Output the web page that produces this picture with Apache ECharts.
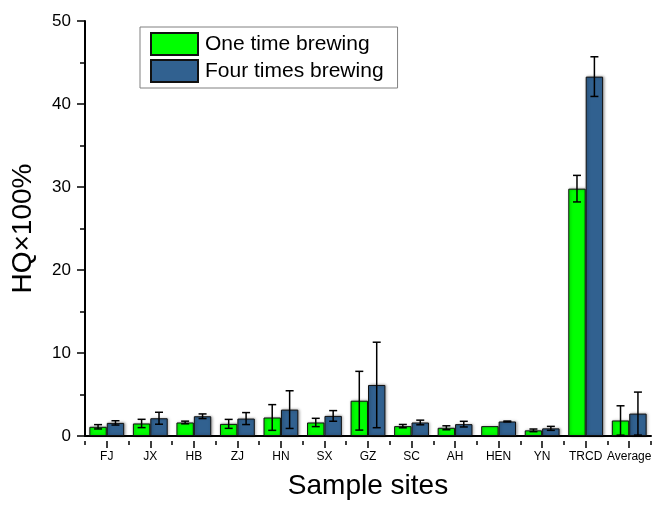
<!DOCTYPE html>
<html>
<head>
<meta charset="utf-8">
<script src="https://cdn.jsdelivr.net/npm/echarts@6/dist/echarts.min.js"></script>
<style>html,body{margin:0;padding:0;background:#fff;}#c{width:656px;height:505px;}</style>
</head>
<body>
<div id="c"></div>
<script>
const categories = ['FJ','JX','HB','ZJ','HN','SX','GZ','SC','AH','HEN','YN','TRCD','Average'];
const oneTime = [1.11, 1.51, 1.63, 1.46, 2.23, 1.63, 4.25, 1.19, 0.99, 1.19, 0.68, 29.8, 1.87];
const oneTimeErr = [0.26, 0.5, 0.16, 0.54, 1.55, 0.5, 3.54, 0.2, 0.24, 0, 0.16, 1.6, 1.77];
const fourTimes = [1.58, 2.14, 2.38, 2.1, 3.18, 2.42, 6.15, 1.63, 1.43, 1.75, 0.92, 43.3, 2.7];
const fourTimesErr = [0.26, 0.72, 0.28, 0.72, 2.27, 0.64, 5.15, 0.28, 0.34, 0.05, 0.24, 2.39, 2.59];
const yTicks = [0, 10, 20, 30, 40, 50];

const FONT = "'Liberation Sans', Arial, sans-serif";
const chart = echarts.init(document.getElementById('c'), null, {renderer: 'canvas'});

function errRender(side) {
  return function (params, api) {
    const idx = api.value(0), v = api.value(1), e = api.value(2);
    if (!e) return null;
    const c = api.coord([idx, v]);
    const band = api.size([1, 0])[0];
    const bw = band * 0.8 / 2;
    const x = c[0] + side * bw / 2;
    const hi = api.coord([idx, v + e])[1];
    const lo = api.coord([idx, v - e])[1];
    const cap = 4;
    const st = {stroke: '#000', lineWidth: 1.5};
    return {
      type: 'group',
      children: [
        {type: 'line', shape: {x1: x, y1: hi, x2: x, y2: lo}, style: st},
        {type: 'line', shape: {x1: x - cap, y1: hi, x2: x + cap, y2: hi}, style: st},
        {type: 'line', shape: {x1: x - cap, y1: lo, x2: x + cap, y2: lo}, style: st}
      ]
    };
  };
}

const gridRect = {left: 85, top: 21, width: 566, height: 420};

const option = {
  animation: false,
  textStyle: {fontFamily: FONT},
  grid: [Object.assign({}, gridRect), Object.assign({}, gridRect), Object.assign({}, gridRect)],
  legend: {
    data: ['One time brewing', 'Four times brewing'],
    orient: 'vertical',
    left: 140, top: 27,
    padding: [5, 14, 5, 10],
    itemGap: 3,
    itemWidth: 47, itemHeight: 22,
    icon: 'rect',
    borderColor: '#808080', borderWidth: 1,
    textStyle: {fontSize: 21, color: '#000', fontFamily: FONT, padding: [0, 0, 0, 2]}
  },
  xAxis: [{
    type: 'category', data: categories, gridIndex: 0,
    name: 'Sample sites', nameLocation: 'middle', nameGap: 36,
    nameTextStyle: {fontSize: 28, color: '#000', fontFamily: FONT},
    axisLine: {lineStyle: {color: '#000', width: 2}},
    axisTick: {show: false},
    axisLabel: {fontSize: 12, color: '#000', margin: 15, interval: 0, fontFamily: FONT}
  }, {
    type: 'category', data: categories, gridIndex: 1,
    axisLine: {show: false},
    axisTick: {show: true, interval: 0, alignWithLabel: true, length: 7, lineStyle: {color: '#000', width: 1.5}},
    axisLabel: {show: false, interval: 0}
  }, {
    type: 'category', data: categories, gridIndex: 2,
    axisLine: {show: false},
    axisTick: {show: true, interval: 0, length: 4, lineStyle: {color: '#000', width: 1.5}},
    axisLabel: {show: false, interval: 0}
  }],
  yAxis: [{
    type: 'value', min: yTicks[0], max: yTicks[yTicks.length - 1], interval: 10, gridIndex: 0,
    name: 'HQ×100%', nameLocation: 'middle', nameGap: 48, nameRotate: 90,
    nameTextStyle: {fontSize: 28, color: '#000', fontFamily: FONT},
    axisLine: {show: true, lineStyle: {color: '#000', width: 2}},
    axisTick: {show: true, length: 8, lineStyle: {color: '#000', width: 1.5}},
    minorTick: {show: true, splitNumber: 2, length: 5, lineStyle: {color: '#000', width: 1.5}},
    splitLine: {show: false},
    axisLabel: {fontSize: 17, color: '#000', margin: 14, fontFamily: FONT}
  }, {
    type: 'value', min: 0, max: 50, gridIndex: 1, show: false
  }, {
    type: 'value', min: 0, max: 50, gridIndex: 2, show: false
  }],
  series: [{
    name: 'One time brewing', type: 'bar', data: oneTime,
    barGap: '0%', barCategoryGap: '20%',
    itemStyle: {color: '#00ff00', borderColor: '#111', borderWidth: 1,
      shadowBlur: 3, shadowColor: 'rgba(0,0,0,0.35)', shadowOffsetX: 1}
  }, {
    name: 'Four times brewing', type: 'bar', data: fourTimes,
    barGap: '0%', barCategoryGap: '20%',
    itemStyle: {color: '#316190', borderColor: '#111', borderWidth: 1,
      shadowBlur: 3, shadowColor: 'rgba(0,0,0,0.35)', shadowOffsetX: 1}
  }, {
    type: 'custom', renderItem: errRender(-1), z: 5,
    data: oneTime.map((v, i) => [i, v, oneTimeErr[i]])
  }, {
    type: 'custom', renderItem: errRender(1), z: 5,
    data: fourTimes.map((v, i) => [i, v, fourTimesErr[i]])
  }]
};
chart.setOption(option);
</script>
</body>
</html>
